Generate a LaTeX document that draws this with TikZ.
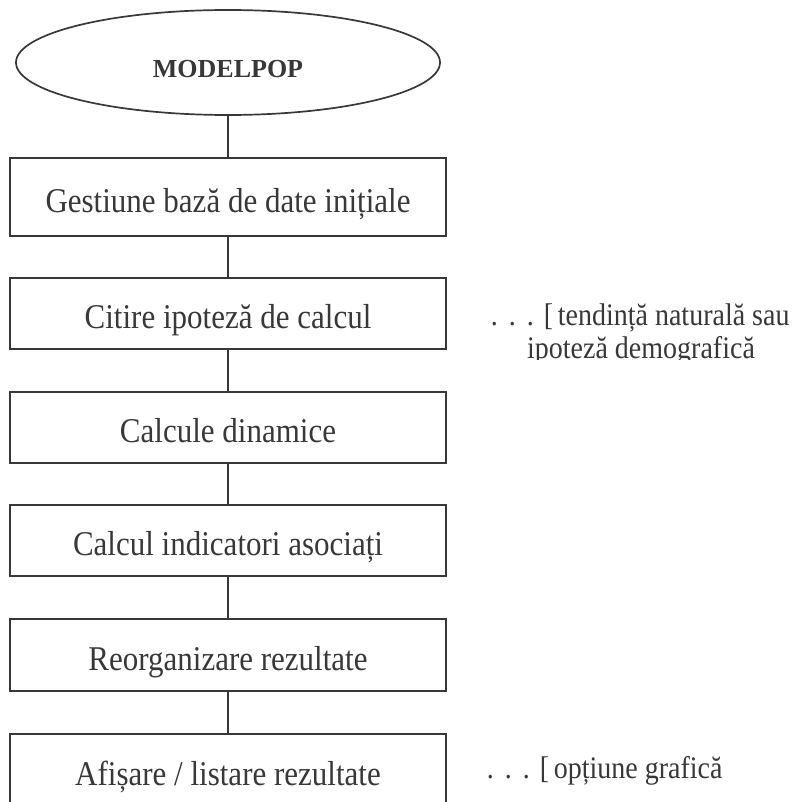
\documentclass[tikz,border=0pt]{standalone}
\usepackage{fontspec}
\usepackage{graphicx}
\setmainfont{Liberation Serif}
\usetikzlibrary{shapes.geometric}
\definecolor{ink}{gray}{0.22}
\newcommand{\talltext}[1]{\scalebox{1}[1.12]{#1}}
\newcommand{\leaderdots}{.\hspace{11pt}.\hspace{11pt}.\hspace{10pt}[\,}
\begin{document}
\begin{tikzpicture}[x=1pt,y=-1pt,
  line width=1.7pt, draw=ink, text=ink,
  stepbox/.style={draw=ink, rectangle, minimum width=436pt, inner sep=0pt,
    text height=30pt, text depth=0pt,
    font=\fontsize{31}{36}\selectfont},
  titleell/.style={draw=ink, ellipse, minimum width=424pt, minimum height=105pt, inner sep=0pt,
    text height=31pt, text depth=0pt,
    font=\fontsize{26}{30}\selectfont\bfseries},
  note/.style={font=\fontsize{28}{33}\selectfont, inner sep=0pt},
  link/.style={draw=ink, line width=1.7pt}]
\useasboundingbox (0,0) rectangle (793,802);
\clip (0,0) rectangle (793,802);

\node[titleell] (top) at (228,62.5) {MODELPOP};
\node[stepbox, minimum height=78pt] (b1) at (228,197) {\talltext{Gestiune bază de date inițiale}};
\node[stepbox, minimum height=71pt] (b2) at (228,313.5) {\talltext{Citire ipoteză de calcul}};
\node[stepbox, minimum height=71pt] (b3) at (228,427.5) {\talltext{Calcule dinamice}};
\node[stepbox, minimum height=71pt] (b4) at (228,540.5) {\talltext{Calcul indicatori asociați}};
\node[stepbox, minimum height=72pt] (b5) at (228,655) {\talltext{Reorganizare rezultate}};
\node[stepbox, minimum height=72pt] (b6) at (228,770) {\talltext{Afișare / listare rezultate}};

\draw[link] (top.south) -- (b1.north);
\draw[link] (b1.south) -- (b2.north);
\draw[link] (b2.south) -- (b3.north);
\draw[link] (b3.south) -- (b4.north);
\draw[link] (b4.south) -- (b5.north);
\draw[link] (b5.south) -- (b6.north);

\node[note, anchor=base west] (n1) at (490,325) {\talltext{\leaderdots tendință naturală sau}};
\begin{scope}
  \clip (450,328) rectangle (793,359);
  \node[note, anchor=base] (n1b) at (641,358) {\talltext{ipoteză demografică}};
\end{scope}
\node[note, anchor=base west] (n2) at (486,778) {\talltext{\leaderdots opțiune grafică}};
\end{tikzpicture}
\end{document}
